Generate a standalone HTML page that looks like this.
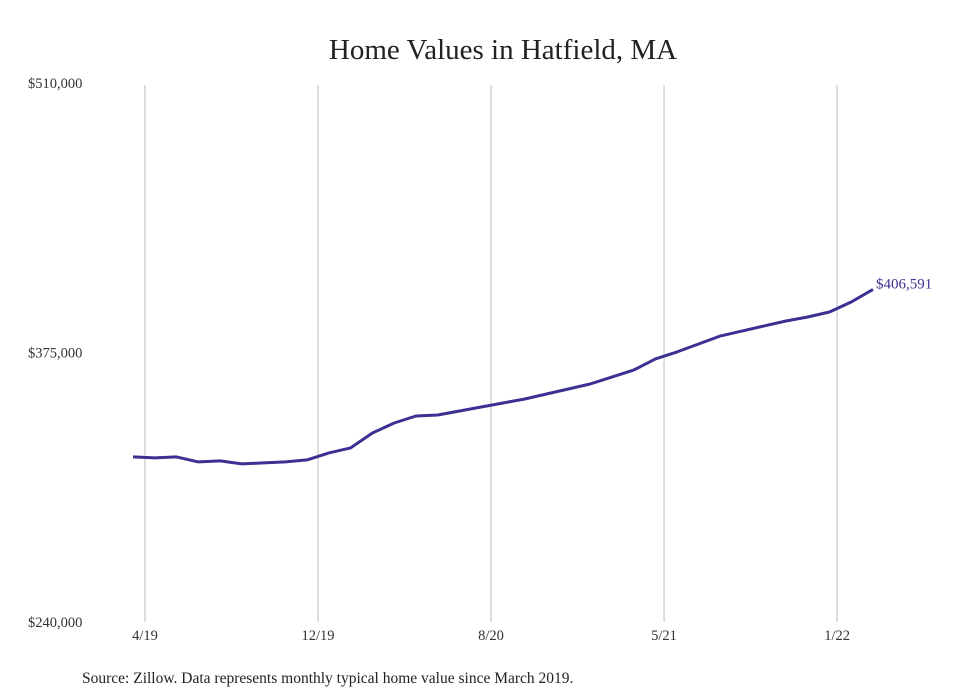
<!DOCTYPE html>
<html><head><meta charset="utf-8"><style>
body{margin:0;background:#fff;}
svg{display:block;font-family:"Liberation Serif",serif;}
</style></head><body>
<svg id="chart" width="980" height="699">
<text x="503" y="59" text-anchor="middle" font-size="29" fill="#222">Home Values in Hatfield, MA</text>
<g id="grid"></g><g id="yticks"></g><g id="xticks"></g>
<path id="line" fill="none" stroke="#3a3192" stroke-width="3" stroke-linejoin="round"></path>
<text id="endlabel" font-size="15" fill="#3a3192"></text>
<text x="82" y="683" font-size="15.5" fill="#222">Source: Zillow. Data represents monthly typical home value since March 2019.</text>
</svg>
<script>
const values=[322700,322200,322700,320200,320700,319200,319700,320200,321200,324700,327200,334700,339700,343200,343700,345700,347700,349700,351700,354200,356700,359200,362700,366200,371800,375300,379300,383300,385800,388300,390800,392800,395300,400300,406591];
const yTicks=[240000,375000,510000];
const yTickLabels=["$240,000","$375,000","$510,000"];
const xTickLabels=["4/19","12/19","8/20","5/21","1/22"];
const xTickPos=[0.55,8.5,16.45,24.4,32.35];
const ns="http://www.w3.org/2000/svg";
const y=v=>622-(v-240000)/270000*539;
const x=i=>133+i*(740/(values.length-1));
const grid=document.getElementById('grid'),yt=document.getElementById('yticks'),xt=document.getElementById('xticks');
yTicks.forEach((t,k)=>{const e=document.createElementNS(ns,'text');


e.setAttribute('x',28);e.setAttribute('y',y(t)+5);e.setAttribute('font-size','14.5');e.setAttribute('fill','#333');e.textContent=yTickLabels[k];yt.appendChild(e);});
xTickLabels.forEach((t,k)=>{const gx=x(xTickPos[k]);const l=document.createElementNS(ns,'line');


l.setAttribute('x1',gx);l.setAttribute('x2',gx);l.setAttribute('y1',85);l.setAttribute('y2',622);l.setAttribute('stroke','#c8c8c8');l.setAttribute('stroke-width','1.2');grid.appendChild(l);
const e=document.createElementNS(ns,'text');


e.setAttribute('x',gx);e.setAttribute('y',640);e.setAttribute('text-anchor','middle');e.setAttribute('font-size','14.5');e.setAttribute('fill','#333');e.textContent=t;xt.appendChild(e);});
document.getElementById('line').setAttribute('d',values.map((v,i)=>(i?'L':'M')+x(i).toFixed(1)+','+y(v).toFixed(1)).join(''));
const n=values.length-1,el=document.getElementById('endlabel');
el.setAttribute('x',x(n)+3);el.setAttribute('y',y(values[n])-1);el.textContent='$'+values[n].toLocaleString('en-US');
</script>
</body></html>
